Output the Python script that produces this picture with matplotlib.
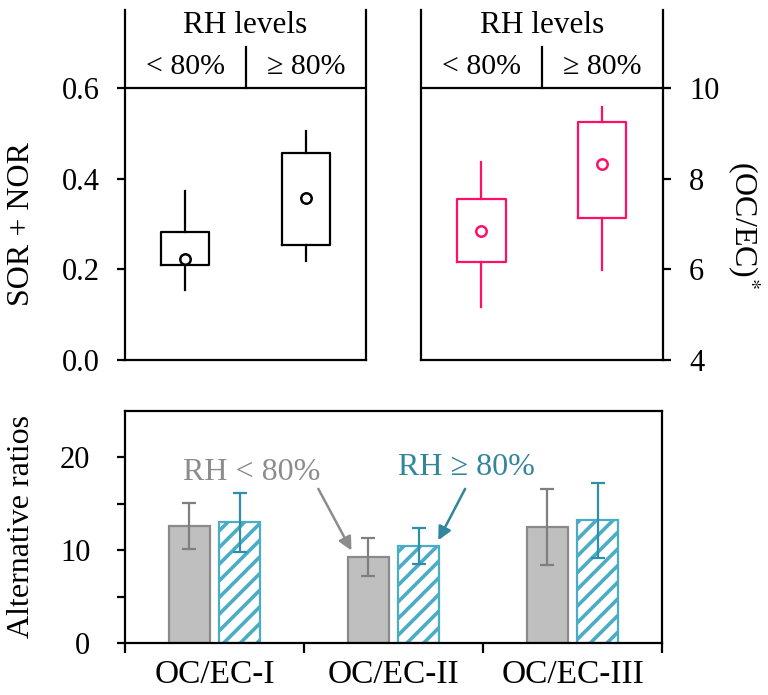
import numpy as np
import matplotlib.pyplot as plt

plt.rcParams['font.family'] = ['Liberation Serif', 'DejaVu Serif']
plt.rcParams['mathtext.fontset'] = 'stix'
plt.rcParams['hatch.linewidth'] = 2.6

# box statistics: whislo, q1, q3, whishi, mean
rh_groups = ['< 80%', '\u2265 80%']
sor_nor = {'whislo': [0.154, 0.219], 'q1': [0.210, 0.255], 'q3': [0.282, 0.457],
           'whishi': [0.373, 0.505], 'mean': [0.224, 0.357]}
ocec_star = {'whislo': [5.17, 5.99], 'q1': [6.17, 7.13], 'q3': [7.56, 9.25],
             'whishi': [8.37, 9.58], 'mean': [6.86, 8.32]}

# bottom panel
ratio_names = ['OC/EC-I', 'OC/EC-II', 'OC/EC-III']
low_rh = [12.6, 9.3, 12.5]
low_rh_err = [2.5, 2.05, 4.05]
high_rh = [13.0, 10.45, 13.2]
high_rh_err = [3.2, 1.95, 4.05]

pink = '#ff0f68'
teal = '#4bacc6'
teal_dark = '#31859c'
gray_fill = '#bfbfbf'
gray_edge = '#8a8a8a'
lw = 1.6
fs = 22

fig = plt.figure(figsize=(7.68, 6.95), dpi=100)
ax1 = fig.add_axes([0.1628, 0.482, 0.3138, 0.5036])
ax2 = fig.add_axes([0.5482, 0.482, 0.3147, 0.5036])
ax3 = fig.add_axes([0.1628, 0.0744, 0.6992, 0.3347])


def box_panel(ax, st, color, ylo, yhi, top):
    stats = []
    for i in range(2):
        stats.append(dict(whislo=st['whislo'][i], q1=st['q1'][i], med=st['q1'][i],
                          q3=st['q3'][i], whishi=st['whishi'][i], mean=st['mean'][i]))
    ax.bxp(stats, positions=[0.5, 1.5], widths=0.4, showcaps=False, showfliers=False,
           showmeans=True,
           boxprops=dict(color=color, linewidth=lw),
           whiskerprops=dict(color=color, linewidth=lw),
           medianprops=dict(linewidth=0),
           meanprops=dict(marker='o', markerfacecolor='white', markeredgecolor=color,
                          markersize=7.5, markeredgewidth=1.8))
    span = yhi - ylo
    ax.set_xlim(0, 2)
    ax.set_ylim(ylo, top)
    ax.spines['top'].set_visible(False)
    for s in ax.spines.values():
        s.set_linewidth(lw)
    ax.axhline(yhi, color='black', linewidth=lw)
    ax.plot([1, 1], [yhi, yhi + span * 0.151], color='black', linewidth=lw)
    ax.text(1, yhi + span * 0.232, 'RH levels', ha='center', va='center', fontsize=fs + 0.5)
    ax.text(0.5, yhi + span * 0.077, rh_groups[0], ha='center', va='center', fontsize=fs - 0.5)
    ax.text(1.5, yhi + span * 0.077, rh_groups[1], ha='center', va='center', fontsize=fs - 0.5)
    ax.set_xticks([])
    ax.tick_params(axis='y', length=6, width=lw, labelsize=fs, pad=12)


box_panel(ax1, sor_nor, 'black', 0.0, 0.6, 0.7727)
ax1.set_yticks([0.0, 0.2, 0.4, 0.6])
ax1.set_yticklabels(['0.0', '0.2', '0.4', '0.6'])
ax1.set_ylabel('SOR + NOR', fontsize=fs + 1)
ax1.yaxis.set_label_coords(-0.37, 0.39)

box_panel(ax2, ocec_star, pink, 4, 10, 11.73)
ax2.set_yticks([4, 6, 8, 10])
ax2.yaxis.tick_right()
ax2.tick_params(axis='y', pad=13)
ax2.yaxis.set_label_position('right')
ax2.set_ylabel('(OC/EC)$^{*}$', fontsize=fs + 1, rotation=270)
ax2.yaxis.set_label_coords(1.41, 0.385)

# bottom bar chart
x = np.arange(len(ratio_names)) + 0.5
bw = 0.23
ax3.bar(x - 0.14, low_rh, bw, color=gray_fill, edgecolor=gray_edge, linewidth=1.6)
ax3.bar(x + 0.14, high_rh, bw, color='white', edgecolor=teal, hatch='//', linewidth=1.6)
ax3.errorbar(x - 0.14, low_rh, yerr=low_rh_err, fmt='none', ecolor='#7f7f7f',
             elinewidth=1.6, capsize=5, capthick=1.6)
ax3.errorbar(x + 0.14, high_rh, yerr=high_rh_err, fmt='none', ecolor='#2f8ea8',
             elinewidth=1.6, capsize=5, capthick=1.6)
ax3.set_xlim(0, 3)
ax3.set_ylim(0, 25)
ax3.set_yticks([0, 5, 10, 15, 20])
ax3.set_yticklabels(['0', '', '10', '', '20'])
ax3.set_xticks([0, 1, 2, 3])
ax3.set_xticklabels([])
ax3.set_xticks(x, minor=True)
ax3.set_xticklabels(ratio_names, minor=True)
ax3.tick_params(axis='x', which='major', length=7, width=lw)
ax3.tick_params(axis='x', which='minor', length=0, labelsize=fs + 2, pad=12)
ax3.tick_params(axis='y', length=6, width=lw, labelsize=fs, pad=19)
for s in ax3.spines.values():
    s.set_linewidth(lw)
ax3.set_ylabel('Alternative ratios', fontsize=fs + 1)
ax3.yaxis.set_label_coords(-0.165, 0.5)

ax3.text(0.71, 18.4, 'RH < 80%', ha='center', va='center', fontsize=fs + 1, color='#8c8c8c')
ax3.annotate('', xy=(1.265, 9.97), xytext=(1.08, 16.6),
             arrowprops=dict(arrowstyle='-|>', color='#8c8c8c', lw=1.8,
                             shrinkA=0, shrinkB=0, mutation_scale=20))
ax3.text(1.905, 18.9, 'RH \u2265 80%', ha='center', va='center', fontsize=fs + 1, color=teal_dark)
ax3.annotate('', xy=(1.75, 11.07), xytext=(1.90, 16.6),
             arrowprops=dict(arrowstyle='-|>', color=teal_dark, lw=1.8,
                             shrinkA=0, shrinkB=0, mutation_scale=20))

fig.savefig('out.png', dpi=100)
plt.close(fig)
